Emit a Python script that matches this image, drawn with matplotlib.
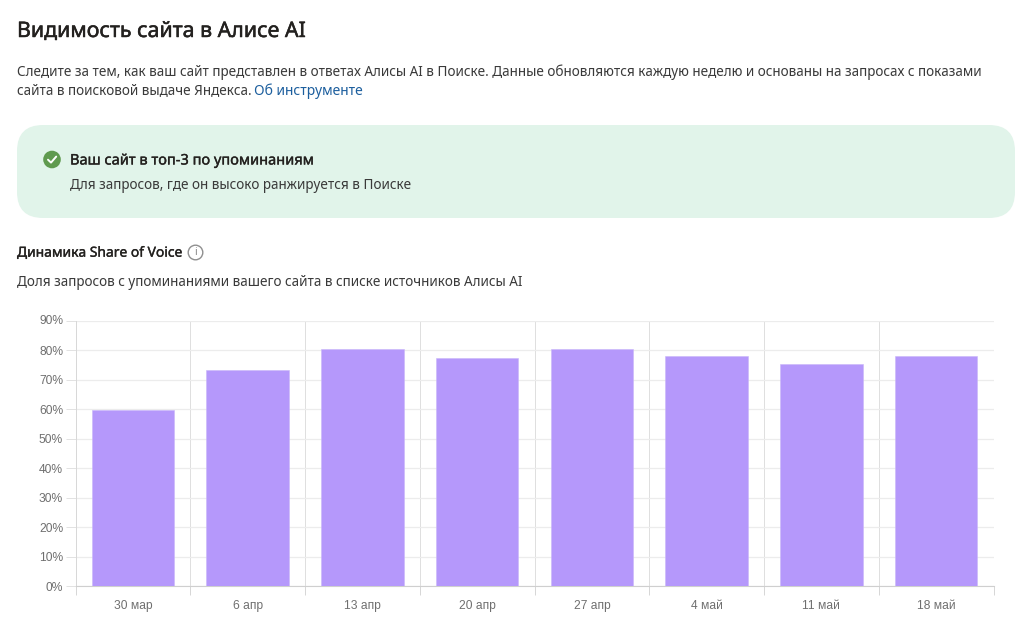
import matplotlib
matplotlib.use("Agg")
import matplotlib.pyplot as plt
import matplotlib.patheffects as pe
from matplotlib.patches import FancyBboxPatch, Circle
from matplotlib.lines import Line2D
from matplotlib.transforms import ScaledTranslation

W, H = 1024, 635
categories = ["30 мар", "6 апр", "13 апр", "20 апр", "27 апр", "4 май", "11 май", "18 май"]
share_of_voice = [59.7, 73.3, 80.5, 77.5, 80.6, 78.2, 75.5, 78.0]
y_ticks = [0, 10, 20, 30, 40, 50, 60, 70, 80, 90]

TXT = "Noto Sans"
fig = plt.figure(figsize=(W / 100, H / 100), dpi=100, facecolor="white")

page = fig.add_axes([0, 0, 1, 1], zorder=0)
page.set_xlim(0, W)
page.set_ylim(H, 0)
page.axis("off")

def px(size):
    return size * 0.72

def heavy(color, width):
    return [pe.withStroke(linewidth=width, foreground=color)]

page.text(17, 31.5, "Видимость сайта в Алисе AI", family=TXT, fontsize=px(21.35), color="#23211f",
          va="center", ha="left", path_effects=heavy("#23211f", 0.35))
page.text(17, 72, "Следите за тем, как ваш сайт представлен в ответах Алисы AI в Поиске. Данные обновляются каждую неделю и основаны на запросах с показами",
          family=TXT, fontsize=px(13.55), color="#3a3a3a", va="center")
page.text(17, 91, "сайта в поисковой выдаче Яндекса.", family=TXT, fontsize=px(13.55), color="#3a3a3a", va="center")
page.text(254, 91, "Об инструменте", family=TXT, fontsize=px(13.9), color="#1d5f9e", va="center")

page.add_patch(FancyBboxPatch((17 + 26, 125 + 26), 998 - 52, 93 - 52,
                              boxstyle="round,pad=26,rounding_size=26",
                              fc="#e1f4ea", ec="none"))
page.add_patch(Circle((52, 159.5), 8.8, fc="#5f9a4f", ec="none"))
page.add_line(Line2D([48, 51, 56.2], [159.7, 162.6, 156.6], color="white", lw=1.4,
                     solid_capstyle="round", solid_joinstyle="round"))
page.text(70, 161, "Ваш сайт в топ-3 по упоминаниям", family=TXT, fontsize=px(14.6), color="#23211f",
          va="center", path_effects=heavy("#23211f", 0.25))
page.text(70, 185.5, "Для запросов, где он высоко ранжируется в Поиске", family=TXT, fontsize=px(13.55),
          color="#3a3a3a", va="center")

page.text(17, 253.2, "Динамика Share of Voice", family=TXT, fontsize=px(13.85), color="#23211f",
          va="center", path_effects=heavy("#23211f", 0.25))
page.add_patch(Circle((195.5, 252.5), 7.3, fc="none", ec="#8f8f8f", lw=1.0))
page.text(195.5, 252.7, "i", family=TXT, fontsize=px(11), color="#8f8f8f", va="center", ha="center")
page.text(17, 282, "Доля запросов с упоминаниями вашего сайта в списке источников Алисы AI", family=TXT,
          fontsize=px(13.55), color="#3a3a3a", va="center")

L, R, T, B = 75.5, 993.5, 321, 586.3
ax = fig.add_axes([L / W, 1 - B / H, (R - L) / W, (B - T) / H], zorder=1)
ax.patch.set_alpha(0)
x = list(range(len(categories)))
ax.bar(x, share_of_voice, width=0.72, color="#b598fb", edgecolor="#c9b6fa", linewidth=0.4, zorder=3)
ax.set_xlim(-0.5, len(categories) - 0.5)
ax.set_ylim(0, 90)
ax.set_yticks(y_ticks)
ax.set_yticklabels([f"{v}%" for v in y_ticks], family="Liberation Sans", fontsize=px(12), color="#6f6f6f")
ax.set_xticks(x)
ax.set_xticklabels(categories, family="Liberation Sans", fontsize=px(12), color="#6f6f6f")
ax.set_xticks([i - 0.5 for i in range(len(categories) + 1)], minor=True)
ax.tick_params(axis="x", which="major", length=0, pad=10)
ax.tick_params(axis="x", which="minor", length=6.5, width=0.7, color="#d6d6d6")
ax.tick_params(axis="y", which="major", length=7, width=0.7, color="#e2e2e2", pad=2)
ax.grid(axis="y", color="#ececec", lw=0.9, zorder=0)
ax.grid(axis="x", which="minor", color="#dedede", lw=0.7, zorder=0)
ax.set_axisbelow(True)
top_label = ax.get_yticklabels()[-1]
top_label.set_transform(top_label.get_transform() + ScaledTranslation(0, 1.5 / 100, fig.dpi_scale_trans))
for s in ("top", "right"):
    ax.spines[s].set_visible(False)
ax.spines["left"].set_color("#d8d8d8")
ax.spines["left"].set_linewidth(0.7)
ax.spines["bottom"].set_color("#cfcfcf")
ax.spines["bottom"].set_linewidth(0.8)

fig.savefig("out.png", dpi=100)
